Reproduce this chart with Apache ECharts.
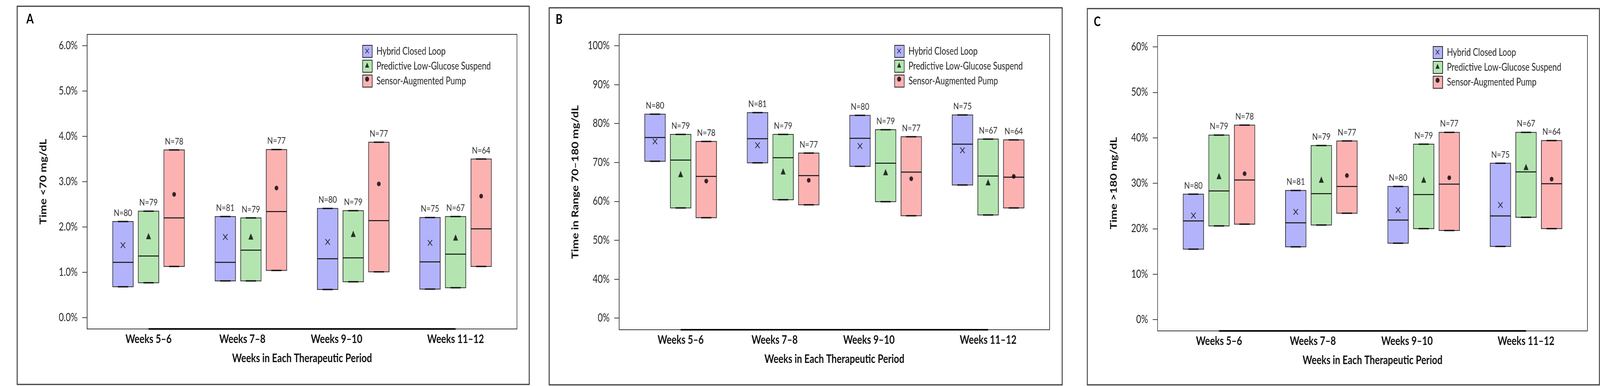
<!DOCTYPE html>
<html><head><meta charset="utf-8">
<script src="https://cdn.jsdelivr.net/npm/echarts@6/dist/echarts.min.js"></script>
<style>html,body{margin:0;padding:0;background:#fff;overflow:hidden}#c{width:5215px;height:988px;transform-origin:0 0}</style>
</head><body><div id="c"></div>
<script>
// ---------- data ----------
const periods = ['Weeks 5–6', 'Weeks 7–8', 'Weeks 9–10', 'Weeks 11–12'];
const periodPos = [1, 2, 3, 4];
const periodLabelPos = [1, 1.917, 2.837, 4];
const groups = ['Hybrid Closed Loop', 'Predictive Low-Glucose Suspend', 'Sensor-Augmented Pump'];
const groupMarkNames = ['HCL mean', 'PLGS mean', 'SAP mean'];
const nPatients = [[80, 81, 80, 75], [79, 79, 79, 67], [78, 77, 77, 64]];

// Panel A: Time <70 mg/dL (%) — rows: groups, cols: periods
const hypoLower  = [[0.68, 0.81, 0.62, 0.63], [0.77, 0.81, 0.79, 0.66], [1.13, 1.04, 1.01, 1.13]];
const hypoMedian = [[1.22, 1.22, 1.30, 1.23], [1.36, 1.49, 1.32, 1.40], [2.20, 2.34, 2.14, 1.96]];
const hypoUpper  = [[2.12, 2.23, 2.41, 2.21], [2.35, 2.20, 2.36, 2.23], [3.70, 3.71, 3.87, 3.50]];
const hypoMean   = [[1.60, 1.78, 1.67, 1.65], [1.80, 1.79, 1.85, 1.77], [2.72, 2.86, 2.95, 2.68]];
const hypoTicks  = [0, 1, 2, 3, 4, 5, 6];

// Panel B: Time in Range 70–180 mg/dL (%)
const tirLower  = [[70.3, 69.9, 69.0, 64.2], [58.3, 60.4, 59.9, 56.5], [55.8, 59.1, 56.3, 58.3]];
const tirMedian = [[76.4, 76.1, 76.2, 74.7], [70.6, 71.2, 69.8, 66.5], [66.4, 66.6, 67.5, 66.2]];
const tirUpper  = [[82.4, 82.8, 82.1, 82.2], [77.2, 77.2, 78.4, 76.0], [75.4, 72.4, 76.6, 75.8]];
const tirMean   = [[75.4, 74.4, 74.2, 73.1], [67.0, 67.7, 67.5, 64.9], [65.2, 65.4, 65.8, 66.4]];
const tirTicks  = [0, 40, 50, 60, 70, 80, 90, 100]; // broken axis: 0% sits one step below 40%

// Panel C: Time >180 mg/dL (%)
const hyperLower  = [[15.5, 16.0, 16.8, 16.1], [20.6, 20.8, 20.0, 22.5], [21.0, 23.4, 19.6, 20.0]];
const hyperMedian = [[21.7, 21.3, 21.9, 22.8], [28.3, 27.7, 27.5, 32.5], [30.7, 29.3, 29.8, 29.9]];
const hyperUpper  = [[27.6, 28.4, 29.3, 34.4], [40.6, 38.3, 38.6, 41.2], [42.8, 39.3, 41.2, 39.4]];
const hyperMean   = [[22.9, 23.7, 24.1, 25.2], [31.6, 30.8, 30.8, 33.6], [32.1, 31.7, 31.2, 30.9]];
const hyperTicks  = [0, 10, 20, 30, 40, 50, 60];

// ---------- styling / layout ----------
const FONT = 'Lato, "Open Sans", "DejaVu Sans", sans-serif';
const groupColors = ['#b3b3fc', '#b4e5b1', '#fdb2b2'];
const groupOffset = [-0.25, 0, 0.25];
const BOX_W = 0.2;
const X_PATH = 'path://M0,1.5L1.5,0L8,6.5L14.5,0L16,1.5L9.5,8L16,14.5L14.5,16L8,9.5L1.5,16L0,14.5L6.5,8Z';
const markSymbols = [X_PATH, 'triangle', 'circle'];
const markSizes = [16, 16, 12];

const tirBreak = 30; // axis position at which the "0%" label of panel B is drawn
const tirAxisPos = v => (v === 0 ? tirBreak : v);

const panels = [
  { letter: 'A', box: [56, 16, 1669, 968], grid: [284, 88, 1401, 754], yMin: -0.25, yMax: 6.25,
    ticks: hypoTicks, tickPos: v => v, fmt: v => v.toFixed(1) + '%', yName: 'Time <70 mg/dL',
    lower: hypoLower, median: hypoMedian, upper: hypoUpper, mean: hypoMean, letterPos: [86, 32] },
  { letter: 'B', box: [1790, 20, 1672, 965], grid: [2018, 88, 1403, 756], yMin: 27.0, yMax: 102.9,
    ticks: tirTicks, tickPos: tirAxisPos, fmt: v => (v === tirBreak ? 0 : Math.round(v)) + '%', yName: 'Time in Range 70–180 mg/dL',
    lower: tirLower, median: tirMedian, upper: tirUpper, mean: tirMean, letterPos: [1811, 33] },
  { letter: 'C', box: [3544, 22, 1669, 963], grid: [3773, 91, 1401, 756], yMin: -2.5, yMax: 62.5,
    ticks: hyperTicks, tickPos: v => v, fmt: v => Math.round(v) + '%', yName: 'Time >180 mg/dL',
    lower: hyperLower, median: hyperMedian, upper: hyperUpper, mean: hyperMean, letterPos: [3565, 39] }
];

function makeRender(color) {
  return function (params, api) {
    const x = api.value(0), lo = api.value(1), md = api.value(2), hi = api.value(3), n = api.value(4);
    const pl = api.coord([x, lo]), pm = api.coord([x, md]), ph = api.coord([x, hi]);
    const w = api.size([BOX_W, 0])[0];
    const x0 = pl[0] - w / 2;
    return {
      type: 'group',
      children: [
        { type: 'rect', shape: { x: x0, y: ph[1], width: w, height: pl[1] - ph[1] },
          style: { fill: color, stroke: '#2e2e2e', lineWidth: 2 } },
        { type: 'line', shape: { x1: x0, y1: pm[1], x2: x0 + w, y2: pm[1] },
          style: { stroke: '#111', lineWidth: 2.5 } },
        { type: 'line', shape: { x1: pl[0] - w * 0.25, y1: ph[1], x2: pl[0] + w * 0.25, y2: ph[1] },
          style: { stroke: '#111', lineWidth: 3.5 } },
        { type: 'line', shape: { x1: pl[0] - w * 0.25, y1: pl[1], x2: pl[0] + w * 0.25, y2: pl[1] },
          style: { stroke: '#111', lineWidth: 3.5 } },
        { type: 'text', x: pl[0], y: ph[1] - 10,
          style: { text: 'N=' + n, fill: '#2a2a2a', fontSize: 24, fontFamily: FONT, align: 'center', verticalAlign: 'bottom' } }
      ]
    };
  };
}

const option = { animation: false, backgroundColor: '#fff', grid: [], xAxis: [], yAxis: [], series: [], legend: [], graphic: [] };

panels.forEach((p, i) => {
  const [gl, gt, gw, gh] = p.grid;
  option.grid.push({ left: gl, top: gt, width: gw, height: gh, show: true, borderColor: '#333', borderWidth: 2, backgroundColor: 'transparent' });
  option.xAxis.push({
    type: 'value', gridIndex: i, min: 0.4, max: 4.6,
    axisLine: { show: false }, axisTick: { show: false }, splitLine: { show: false },
    axisLabel: {
      customValues: periodLabelPos, margin: 11, fontFamily: FONT, fontWeight: 'bold', fontSize: 30, color: '#111',
      formatter: v => periods[periodLabelPos.findIndex(q => Math.abs(q - v) < 1e-6)] || ''
    },
    name: 'Weeks in Each Therapeutic Period', nameLocation: 'middle', nameGap: 60,
    nameTextStyle: { fontFamily: FONT, fontWeight: 'bold', fontSize: 30, color: '#111' }
  });
  const tickVals = p.ticks.map(p.tickPos);
  option.yAxis.push({
    type: 'value', gridIndex: i, min: p.yMin, max: p.yMax,
    axisLine: { show: true, lineStyle: { color: '#333', width: 2 } },
    axisTick: { show: true, customValues: tickVals, length: 16, lineStyle: { color: '#444', width: 2 } },
    axisLabel: { customValues: tickVals, margin: 31, fontFamily: FONT, fontSize: 28, color: '#222', formatter: p.fmt },
    splitLine: { show: false },
    name: p.yName, nameLocation: 'middle', nameRotate: 90, nameGap: 128,
    nameTextStyle: { fontFamily: FONT, fontWeight: 'bold', fontSize: 30, color: '#111' }
  });
  groups.forEach((g, k) => {
    option.series.push({
      type: 'custom', name: g, xAxisIndex: i, yAxisIndex: i, clip: false, z: 2,
      itemStyle: { color: groupColors[k] },
      renderItem: makeRender(groupColors[k]),
      encode: { x: 0, y: [1, 2, 3] },
      data: periodPos.map((pp, j) => [pp + groupOffset[k], p.lower[k][j], p.median[k][j], p.upper[k][j], nPatients[k][j]])
    });
    option.series.push({
      type: 'scatter', name: groupMarkNames[k], xAxisIndex: i, yAxisIndex: i, z: 4,
      symbol: markSymbols[k], symbolSize: markSizes[k], itemStyle: { color: '#000' }, silent: true,
      data: periodPos.map((pp, j) => [pp + groupOffset[k], p.mean[k][j]])
    });
  });
  option.series.push({
    type: 'line', name: 'axis-span', xAxisIndex: i, yAxisIndex: i, symbol: 'none', silent: true, clip: false, z: 5,
    lineStyle: { color: '#000', width: 4 },
    data: [[periodLabelPos[0], p.yMin], [periodLabelPos[periodLabelPos.length - 1], p.yMin]]
  });
  option.legend.push({
    orient: 'vertical', left: gl + 892, top: gt + 22, itemWidth: 31, itemHeight: 31, itemGap: 5, selectedMode: false,
    textStyle: { fontFamily: FONT, fontSize: 26, color: '#222', padding: [0, 0, 0, 9] },
    data: groups.map((g, k) => ({ name: g, icon: 'rect', itemStyle: { color: groupColors[k], borderColor: '#222', borderWidth: 2 } }))
  });
  option.legend.push({
    orient: 'vertical', left: gl + 892 + 9, top: gt + 22 + 9, itemWidth: 13, itemHeight: 13, itemGap: 23, selectedMode: false, z: 6,
    formatter: () => '', textStyle: { fontSize: 6 },
    data: groupMarkNames.map((m, k) => ({ name: m, icon: k === 0 ? X_PATH : markSymbols[k], itemStyle: { color: '#000' } }))
  });
  option.graphic.push({ type: 'rect', silent: true, shape: { x: p.box[0], y: p.box[1], width: p.box[2], height: p.box[3] },
    style: { fill: 'none', stroke: '#3a3a3a', lineWidth: 3 } });
  option.graphic.push({ type: 'text', silent: true, x: p.letterPos[0], y: p.letterPos[1],
    style: { text: p.letter, fontFamily: FONT, fontWeight: 'bold', fontSize: 34, fill: '#000', verticalAlign: 'top' } });
});

// The browser may cap the viewport width below the 5215px design width; squeeze horizontally to fit.
const el = document.getElementById('c');
const sx = Math.min(1, window.innerWidth / 5215);
const sy = Math.min(1, window.innerHeight / 988);
if (sx < 1 || sy < 1) el.style.transform = 'scale(' + sx + ',' + sy + ')';

const chart = echarts.init(el, null, { renderer: 'canvas' });
chart.setOption(option);
</script>
</body></html>
